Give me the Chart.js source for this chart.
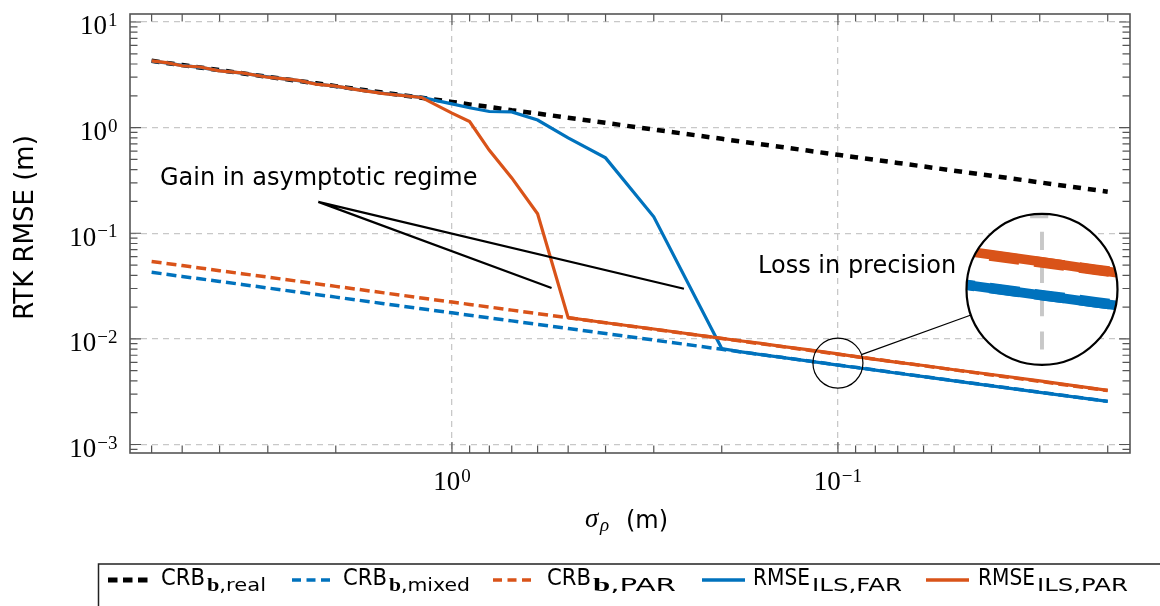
<!DOCTYPE html>
<html><head><meta charset="utf-8">
<script src="https://cdn.jsdelivr.net/npm/chart.js@4.4.1/dist/chart.umd.min.js"></script>
<style>
html,body{margin:0;padding:0;background:#fff;overflow:hidden;}
#wrap{position:relative;width:1160px;height:606px;overflow:hidden;}
#c{position:absolute;left:0;top:0;width:1160px;height:606px;}
#leg{position:absolute;left:0;top:0;}
</style></head><body>
<div id="wrap">
<canvas id="c" width="1160" height="606"></canvas>
<svg id="leg" width="1160" height="606" xmlns="http://www.w3.org/2000/svg">
  <rect x="98.5" y="564" width="1100" height="70" fill="none" stroke="#222" stroke-width="1.5"/>
  <line x1="108" y1="580" x2="148" y2="580" stroke="#000" stroke-width="5" stroke-dasharray="9.5 5.5"/>
  <text x="161" y="585" font-family="DejaVu Sans" font-size="22.5" textLength="44" lengthAdjust="spacingAndGlyphs">CRB</text>
  <text x="207" y="591" font-family="DejaVu Sans" font-size="18" textLength="59" lengthAdjust="spacingAndGlyphs"><tspan font-family="Liberation Serif" font-weight="bold" font-size="19">b</tspan>,real</text>
  <line x1="292" y1="580" x2="331" y2="580" stroke="#0072BD" stroke-width="3.5" stroke-dasharray="9 5.5"/>
  <text x="343" y="585" font-family="DejaVu Sans" font-size="22.5" textLength="44" lengthAdjust="spacingAndGlyphs">CRB</text>
  <text x="389" y="591" font-family="DejaVu Sans" font-size="18" textLength="81" lengthAdjust="spacingAndGlyphs"><tspan font-family="Liberation Serif" font-weight="bold" font-size="19">b</tspan>,mixed</text>
  <line x1="493" y1="580" x2="532" y2="580" stroke="#D95319" stroke-width="3.5" stroke-dasharray="9 5.5"/>
  <text x="547" y="585" font-family="DejaVu Sans" font-size="22.5" textLength="44" lengthAdjust="spacingAndGlyphs">CRB</text>
  <text x="593" y="591" font-family="DejaVu Sans" font-size="18" textLength="83" lengthAdjust="spacingAndGlyphs"><tspan font-family="Liberation Serif" font-weight="bold" font-size="19">b</tspan>,PAR</text>
  <line x1="702" y1="580" x2="745" y2="580" stroke="#0072BD" stroke-width="3.5"/>
  <text x="753" y="585" font-family="DejaVu Sans" font-size="22.5" textLength="57" lengthAdjust="spacingAndGlyphs">RMSE</text>
  <text x="812" y="591" font-family="DejaVu Sans" font-size="18" textLength="90" lengthAdjust="spacingAndGlyphs">ILS,FAR</text>
  <line x1="926" y1="580" x2="969" y2="580" stroke="#D95319" stroke-width="3.5"/>
  <text x="978" y="585" font-family="DejaVu Sans" font-size="22.5" textLength="57" lengthAdjust="spacingAndGlyphs">RMSE</text>
  <text x="1037" y="591" font-family="DejaVu Sans" font-size="18" textLength="91" lengthAdjust="spacingAndGlyphs">ILS,PAR</text>
</svg>
</div>
<script>
// ---- data ----
const sigma = [6, 5.5, 5, 4.5, 4, 3.5, 3, 2.5, 2.25, 2, 1.75, 1.5, 1.2, 1, 0.9, 0.8, 0.7, 0.6, 0.5, 0.4, 0.3, 0.2, 0.18, 0.16, 0.14, 0.12, 0.1, 0.09, 0.08, 0.07, 0.06, 0.05, 0.04, 0.03, 0.02];
const crbReal = [4.29, 4.10, 3.91, 3.71, 3.50, 3.27, 3.03, 2.77, 2.63, 2.47, 2.31, 2.14, 1.92, 1.75, 1.66, 1.57, 1.46, 1.36, 1.24, 1.11, 0.958, 0.783, 0.742, 0.700, 0.655, 0.606, 0.553, 0.525, 0.495, 0.463, 0.429, 0.391, 0.350, 0.303, 0.2475];
const crbMixed = [0.0427, 0.0409, 0.0390, 0.03706, 0.0350, 0.03273, 0.0303, 0.02773, 0.02633, 0.02484, 0.02325, 0.02155, 0.0193, 0.01764, 0.01675, 0.0158, 0.0148, 0.01371, 0.01253, 0.01122, 0.00974, 0.00797, 0.00757, 0.00714, 0.00669, 0.0062, 0.00566, 0.00538, 0.00508, 0.00475, 0.0044, 0.00402, 0.0036, 0.00313, 0.00256];
const crbPar = [0.054, 0.05174, 0.0494, 0.04688, 0.0442, 0.0414, 0.0384, 0.03508, 0.03331, 0.0314, 0.02941, 0.02726, 0.0244, 0.0223, 0.0212, 0.0200, 0.01872, 0.01735, 0.01585, 0.0142, 0.01232, 0.01009, 0.00958, 0.00903, 0.00846, 0.00784, 0.00716, 0.0068, 0.00642, 0.00601, 0.00557, 0.00509, 0.00456, 0.00396, 0.00324];
const rmseFar = [4.26, 4.10, 3.88, 3.72, 3.46, 3.28, 3.02, 2.78, 2.60, 2.46, 2.29, 2.11, 1.93, 1.68, 1.54, 1.42, 1.41, 1.18, 0.80, 0.517, 0.143, 0.0081, 0.00758, 0.00713, 0.00668, 0.0062, 0.00565, 0.00536, 0.00506, 0.00473, 0.00439, 0.00401, 0.00359, 0.00312, 0.00256];
const rmsePar = [4.28, 4.12, 3.85, 3.75, 3.44, 3.30, 3.00, 2.80, 2.58, 2.47, 2.28, 2.10, 1.93, 1.37, 1.14, 0.61, 0.334, 0.153, 0.0159, 0.0142, 0.0124, 0.0101, 0.0096, 0.0091, 0.0085, 0.0079, 0.0072, 0.0068, 0.0064, 0.0060, 0.0056, 0.0051, 0.0046, 0.0040, 0.00325];

const xTickValues = [1, 0.1];
const xTickLabels = ['10^0', '10^−1'];
const yTickValues = [10, 1, 0.1, 0.01, 0.001];
const yTickLabels = ['10^1', '10^0', '10^−1', '10^−2', '10^−3'];

const seriesNames = ['CRB b,real', 'CRB b,mixed', 'CRB b,PAR', 'RMSE ILS,FAR', 'RMSE ILS,PAR'];

// annotation anchors in data coordinates (sigma, value)
const gainText = 'Gain in asymptotic regime';
const gainTextAt = [5.71, 0.287];
const gainFrom = [2.22, 0.198];
const gainTo1 = [0.552, 0.0303];
const gainTo2 = [0.2506, 0.0298];
const lossText = 'Loss in precision';
const lossTextAt = [0.161, 0.0422];
const spyFrom = [0.1, 0.0059];
const spyTo = [0.0296, 0.0294];

const BLUE = '#0072BD', ORANGE = '#D95319';
const pts = arr => sigma.map((s, i) => ({x: s, y: arr[i]}));

const deco = {
  id: 'deco',
  afterDatasetsDraw(chart) {
    const ctx = chart.ctx, xs = chart.scales.x, ys = chart.scales.y, a = chart.chartArea;
    const px = v => xs.getPixelForValue(v), py = v => ys.getPixelForValue(v);

    // ---- magnifier (spy) ----
    const cx = px(spyFrom[0]), cy = py(spyFrom[1]);
    const bx = px(spyTo[0]), by = py(spyTo[1]);
    const r = 25, R = 75.5, k = R / r;
    ctx.save();
    ctx.beginPath(); ctx.arc(bx, by, R, 0, Math.PI * 2); ctx.clip();
    ctx.fillStyle = '#fff'; ctx.fillRect(bx - R - 2, by - R - 2, 2 * R + 4, 2 * R + 4);
    ctx.translate(bx, by); ctx.scale(k, k); ctx.translate(-cx, -cy);
    ctx.strokeStyle = '#c8c8c8'; ctx.lineWidth = 1.3; ctx.setLineDash([6, 5]);
    xTickValues.forEach(v => { const x = px(v); ctx.beginPath(); ctx.moveTo(x, a.top); ctx.lineTo(x, a.bottom); ctx.stroke(); });
    yTickValues.forEach(v => { const y = py(v); ctx.beginPath(); ctx.moveTo(a.left, y); ctx.lineTo(a.right, y); ctx.stroke(); });
    ctx.setLineDash([]);
    const metas = chart.getSortedVisibleDatasetMetas();
    for (let i = metas.length - 1; i >= 0; i--) metas[i].controller.draw();
    ctx.restore();

    ctx.save();
    ctx.strokeStyle = '#000';
    ctx.lineWidth = 1.2;
    ctx.beginPath(); ctx.arc(cx, cy, r, 0, Math.PI * 2); ctx.stroke();
    const dx = bx - cx, dy = by - cy, L = Math.hypot(dx, dy), ux = dx / L, uy = dy / L;
    ctx.beginPath(); ctx.moveTo(cx + ux * r, cy + uy * r); ctx.lineTo(bx - ux * R, by - uy * R); ctx.stroke();
    ctx.lineWidth = 2.2;
    ctx.beginPath(); ctx.arc(bx, by, R, 0, Math.PI * 2); ctx.stroke();

    // ---- annotations ----
    ctx.lineWidth = 2.2;
    ctx.beginPath();
    ctx.moveTo(px(gainFrom[0]), py(gainFrom[1])); ctx.lineTo(px(gainTo1[0]), py(gainTo1[1]));
    ctx.moveTo(px(gainFrom[0]), py(gainFrom[1])); ctx.lineTo(px(gainTo2[0]), py(gainTo2[1]));
    ctx.stroke();
    ctx.fillStyle = '#000';
    ctx.font = '24px "DejaVu Sans"';
    ctx.textAlign = 'left'; ctx.textBaseline = 'alphabetic';
    ctx.fillText(gainText, px(gainTextAt[0]), py(gainTextAt[1]));
    ctx.fillText(lossText, px(lossTextAt[0]), py(lossTextAt[1]));

    // ---- axis box and tick marks ----
    ctx.strokeStyle = '#555'; ctx.lineWidth = 1.6;
    ctx.strokeRect(a.left, a.top, a.right - a.left, a.bottom - a.top);
    ctx.lineWidth = 1.2;
    ctx.beginPath();
    for (let d = -4; d <= 2; d++) {
      for (let m = 1; m <= 9; m++) {
        const v = m * Math.pow(10, d);
        const len = m === 1 ? 11 : 7.5;
        if (v >= ys.min && v <= ys.max) {
          const y = py(v);
          ctx.moveTo(a.left, y); ctx.lineTo(a.left + len, y);
          ctx.moveTo(a.right, y); ctx.lineTo(a.right - len, y);
        }
        if (v >= xs.min && v <= xs.max) {
          const x = px(v);
          ctx.moveTo(x, a.bottom); ctx.lineTo(x, a.bottom - len);
          ctx.moveTo(x, a.top); ctx.lineTo(x, a.top + len);
        }
      }
    }
    ctx.stroke();

    // ---- tick labels ----
    const big = '27px "Liberation Serif"', small = '19px "Liberation Serif"';
    ctx.fillStyle = '#000';
    ctx.textAlign = 'left';
    yTickValues.forEach((v, i) => {
      const [b, e] = yTickLabels[i].split('^');
      const y = py(v);
      ctx.font = small; const ew = ctx.measureText(e).width;
      ctx.font = big; const bw = ctx.measureText(b).width;
      const right = a.left - 12.5;
      const x0 = right - ew - bw - 1;
      ctx.fillText(b, x0, y + 12.5);
      ctx.font = small; ctx.fillText(e, x0 + bw + 1, y + 4);
    });
    xTickValues.forEach((v, i) => {
      const [b, e] = xTickLabels[i].split('^');
      const x = px(v);
      ctx.font = small; const ew = ctx.measureText(e).width;
      ctx.font = big; const bw = ctx.measureText(b).width;
      const x0 = x - (bw + ew + 1) / 2;
      ctx.fillText(b, x0, a.bottom + 37);
      ctx.font = small; ctx.fillText(e, x0 + bw + 1, a.bottom + 28.5);
    });

    // ---- axis titles ----
    const xc = (a.left + a.right) / 2;
    ctx.font = 'italic 27px "Liberation Serif"';
    ctx.fillText('σ', xc - 45, a.bottom + 74);
    ctx.font = 'italic 19px "Liberation Serif"';
    ctx.fillText('ρ', xc - 30, a.bottom + 78);
    ctx.font = '24px "DejaVu Sans"';
    ctx.fillText('(m)', xc - 4, a.bottom + 74.5);

    ctx.save();
    ctx.translate(33, (a.top + a.bottom) / 2 - 6);
    ctx.rotate(-Math.PI / 2);
    ctx.textAlign = 'center';
    ctx.font = '26px "DejaVu Sans"';
    ctx.fillText('RTK RMSE (m)', 0, 0);
    ctx.restore();
    ctx.restore();
  }
};

const common = {pointRadius: 0, pointHoverRadius: 0, showLine: true, tension: 0, fill: false};
new Chart(document.getElementById('c'), {
  type: 'scatter',
  data: {
    datasets: [
      {...common, label: seriesNames[0], data: pts(crbReal), borderColor: '#000', borderWidth: 4.5, borderDash: [8, 7], order: 4},
      {...common, label: seriesNames[1], data: pts(crbMixed), borderColor: BLUE, borderWidth: 3.5, borderDash: [10, 5], order: 3},
      {...common, label: seriesNames[2], data: pts(crbPar), borderColor: ORANGE, borderWidth: 3.5, borderDash: [10, 5], order: 2},
      {...common, label: seriesNames[3], data: pts(rmseFar), borderColor: BLUE, borderWidth: 3.2, order: 1},
      {...common, label: seriesNames[4], data: pts(rmsePar), borderColor: ORANGE, borderWidth: 3.2, order: 0}
    ]
  },
  options: {
    responsive: false,
    animation: false,
    events: [],
    layout: {padding: {left: 130, right: 30, top: 14, bottom: 153}},
    plugins: {legend: {display: false}, tooltip: {enabled: false}, title: {display: false}},
    scales: {
      x: {
        type: 'logarithmic', reverse: true, min: 0.01751, max: 6.826, bounds: 'data',
        afterBuildTicks: s => { s.ticks = xTickValues.map(v => ({value: v})); },
        ticks: {display: false},
        grid: {color: '#c8c8c8', lineWidth: 1.3, drawTicks: false},
        border: {display: false, dash: [6, 5]}
      },
      y: {
        type: 'logarithmic', min: 0.000831, max: 11.9, bounds: 'data',
        afterBuildTicks: s => { s.ticks = yTickValues.map(v => ({value: v})); },
        ticks: {display: false},
        grid: {color: '#c8c8c8', lineWidth: 1.3, drawTicks: false},
        border: {display: false, dash: [6, 5]}
      }
    }
  },
  plugins: [deco]
});
</script>
</body></html>
